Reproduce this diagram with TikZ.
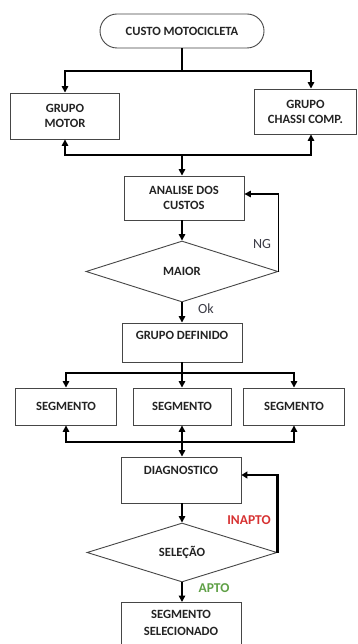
\documentclass[tikz,border=0pt]{standalone}
\usepackage{fontspec}
\setmainfont{Carlito}
\usetikzlibrary{shapes.geometric,arrows.meta}
\definecolor{boxline}{RGB}{70,70,70}
\definecolor{txt}{RGB}{35,35,35}
\definecolor{inapto}{RGB}{215,50,50}
\definecolor{apto}{RGB}{95,160,70}
\definecolor{lbl}{RGB}{60,60,70}
\begin{document}
\begin{tikzpicture}[x=1pt,y=-1pt,
  tfont/.style={font=\fontsize{12.6}{15}\selectfont\bfseries,text=txt},
  box/.style={draw=boxline,line width=0.9pt,rectangle,inner sep=0pt,align=center,tfont},
  term/.style={box,rounded corners=17pt},
  dec/.style={draw=boxline,line width=0.9pt,diamond,inner sep=0pt,tfont},
  conn/.style={draw=black,line width=1.5pt},
  arr/.style={conn,-{Triangle[width=6.5pt,length=6.5pt]}},
  darr/.style={conn,{Triangle[width=6.5pt,length=6.5pt]}-{Triangle[width=6.5pt,length=6.5pt]}},
  lab/.style={font=\fontsize{14}{16}\selectfont,text=lbl},
  ]
\useasboundingbox (0,0) rectangle (357,644);
\fill[white] (0,0) rectangle (357,644);

\node[term,minimum width=164pt,minimum height=34pt] (top) at (182,31) {CUSTO MOTOCICLETA};
\node[box,minimum width=109pt,minimum height=46pt] (gm) at (65,116) {GRUPO\\MOTOR};
\node[box,minimum width=102pt,minimum height=45pt] (gc) at (305.5,111.5) {GRUPO\\CHASSI COMP.};
\node[box,minimum width=120pt,minimum height=44pt] (an) at (184,198) {ANALISE DOS\\CUSTOS};
\node[dec,minimum width=192pt,minimum height=61pt,aspect=3.15] (mai) at (182,271.5) {MAIOR};
\node[box,minimum width=120pt,minimum height=39pt] (def) at (182,342.5) {};
\node[tfont] (deft) at (182,335) {GRUPO DEFINIDO};
\node[box,minimum width=101pt,minimum height=37pt] (s1) at (66,406.5) {SEGMENTO};
\node[box,minimum width=98pt,minimum height=37pt] (s2) at (182,406.5) {SEGMENTO};
\node[box,minimum width=101pt,minimum height=37pt] (s3) at (294,406.5) {SEGMENTO};
\node[box,minimum width=120pt,minimum height=46pt] (dg) at (181,480) {};
\node[tfont] (dgt) at (181,470) {DIAGNOSTICO};
\node[dec,minimum width=190pt,minimum height=59pt,aspect=3.2] (sel) at (182,552.5) {SELEÇÃO};
\node[box,minimum width=120pt,minimum height=46pt,anchor=north] (ss) at (181,602) {};
\node[tfont,align=center,font=\fontsize{12.6}{17}\selectfont\bfseries] (sst) at (181,623) {SEGMENTO\\SELECIONADO};

% top split
\coordinate (j1) at (182,71);
\draw[conn] (top.south) -- (j1);
\draw[arr] (j1) -| (gm.north);
\draw[arr] (j1) -| ([xshift=5.5pt]gc.north);
% bottom bus of groups
\coordinate (j2) at (182,155);
\draw[arr] (j2) -| (gm.south);
\draw[arr] (j2) -| ([xshift=5.5pt]gc.south);
\draw[arr] (j2) -- (an.north -| j2);
% analysis -> decision
\draw[arr] (an.south -| mai.north) -- (mai.north);
\draw[arr] (mai.east) |- ([yshift=4pt]an.east);
\node[lab] (ng) at (262,244) {NG};
\draw[arr] (mai.south) -- (def.north);
\node[lab] (ok) at (206,309) {Ok};
% split to segments
\coordinate (j3) at (182,373);
\draw[conn] (def.south) -- (j3);
\draw[arr] (j3) -| (s1.north);
\draw[arr] (j3) -- (s2.north);
\draw[arr] (j3) -| (s3.north);
% segments bus
\coordinate (j4) at (182,442);
\draw[arr] (j4) -| (s1.south);
\draw[arr] (j4) -| (s3.south);
\draw[darr] (s2.south) -- (dg.north -| s2.south);
% diagnostic -> selection
\draw[arr] (dg.south -| sel.north) -- (sel.north);
\draw[conn,line width=2.2pt,-{Triangle[width=7pt,length=6pt]}] (sel.east) |- ([yshift=5pt]dg.east);
\node[font=\fontsize{13.5}{15}\selectfont\bfseries,text=inapto] (ina) at (249,520) {INAPTO};
\draw[arr] (sel.south) -- (ss.north -| sel.south);
\node[font=\fontsize{13.5}{15}\selectfont\bfseries,text=apto] (apt) at (214,588) {APTO};
\end{tikzpicture}
\end{document}
